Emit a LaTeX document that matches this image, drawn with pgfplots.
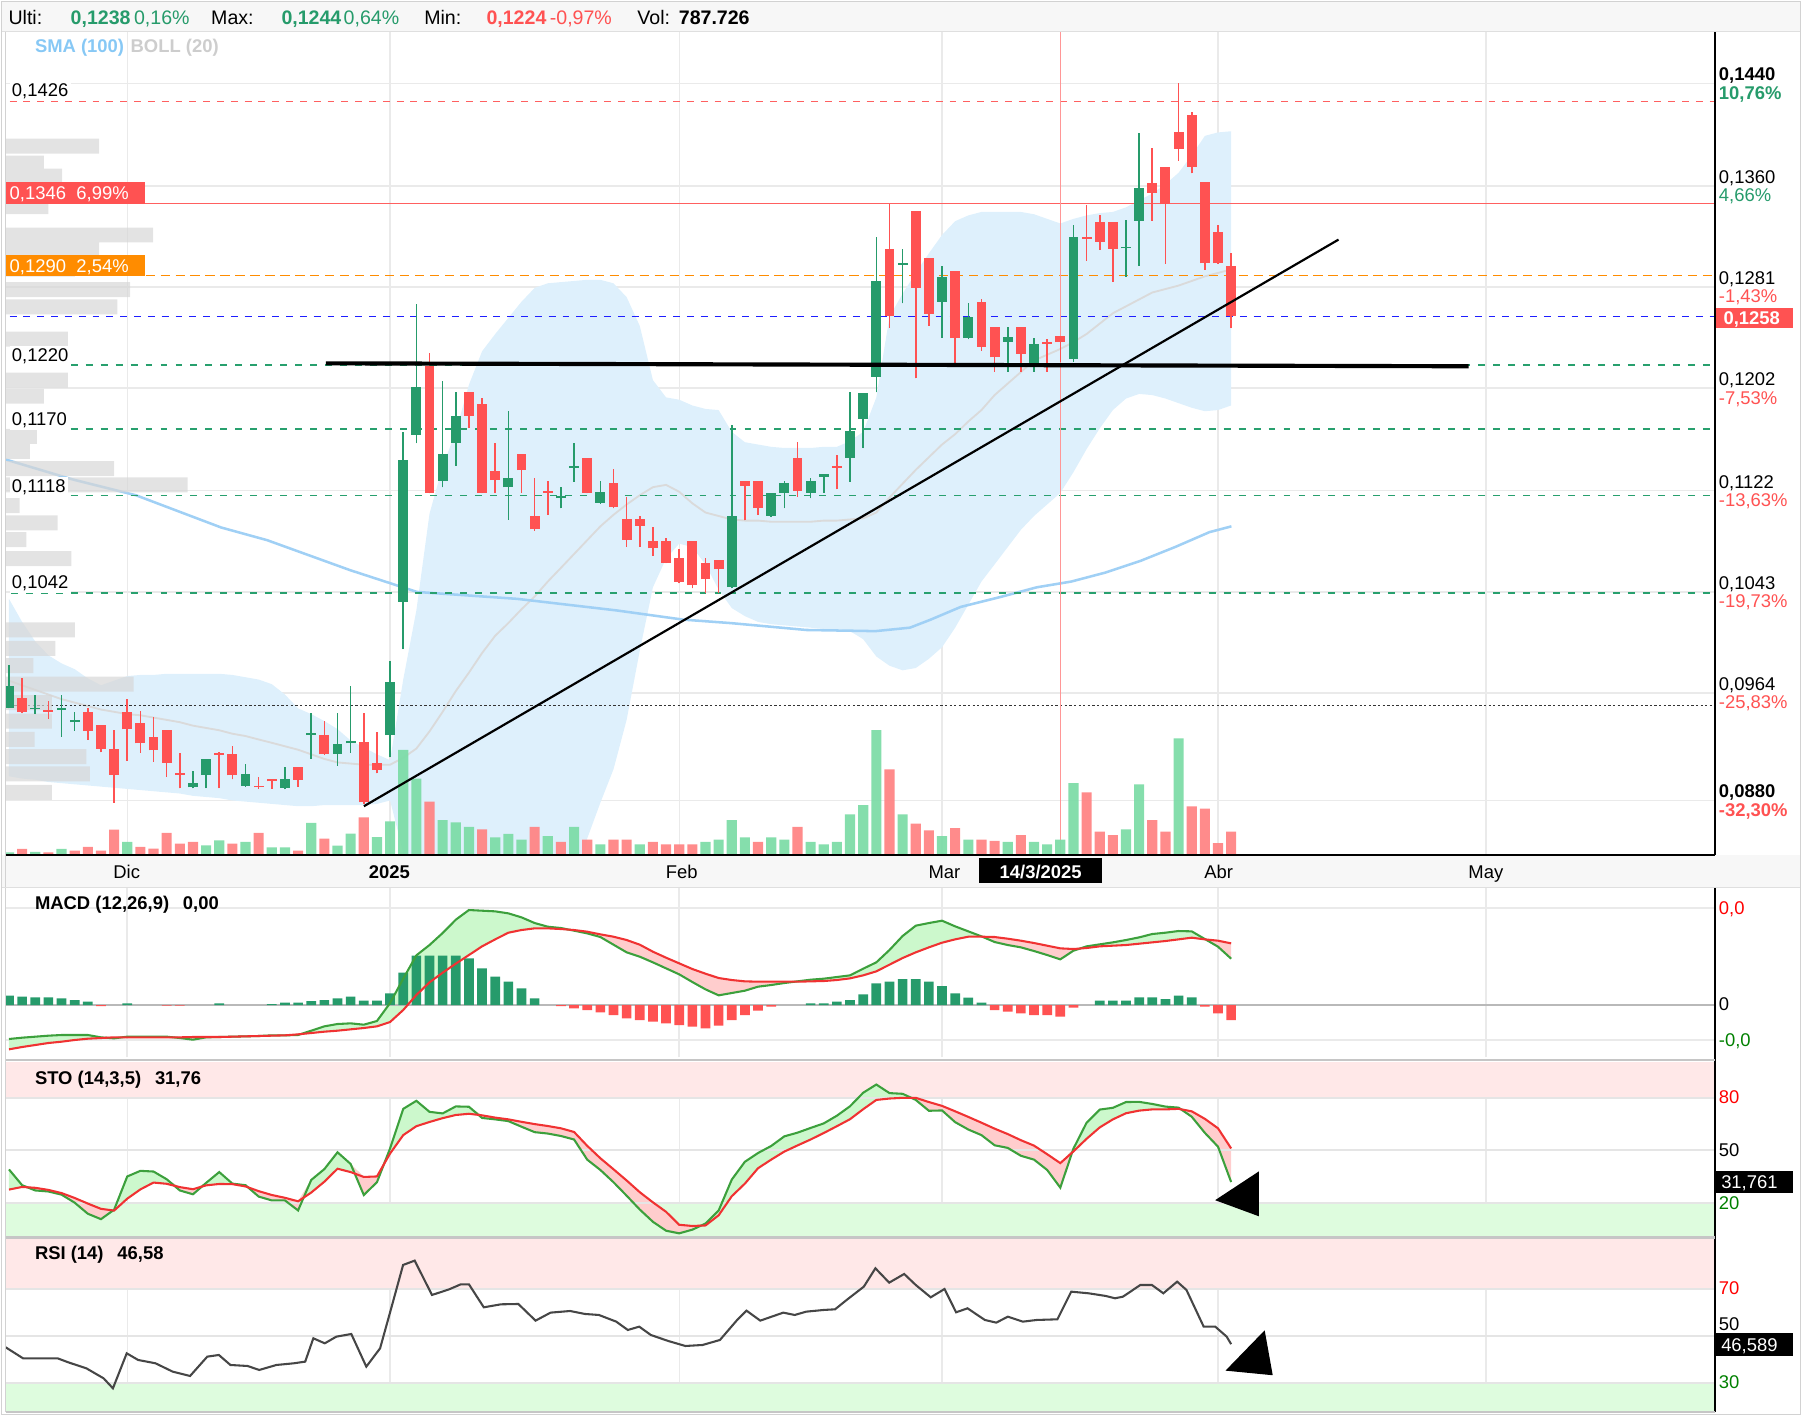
\documentclass[border=0pt]{standalone}
\usepackage{pgfplots}
\pgfplotsset{compat=1.18}
\usepackage{pgfplotstable}
\usepgfplotslibrary{fillbetween}
\usepackage{fontspec}
\setmainfont{Liberation Sans}

\definecolor{cg}{RGB}{38,155,107}
\definecolor{cr}{RGB}{255,82,82}
\definecolor{vg}{RGB}{126,220,168}
\definecolor{vr}{RGB}{255,133,133}
\definecolor{bandc}{RGB}{222,240,252}
\definecolor{smac}{RGB}{160,208,245}
\definecolor{midc}{RGB}{218,218,218}
\definecolor{dg}{RGB}{40,160,110}
\definecolor{lred}{RGB}{255,96,96}
\definecolor{orng}{RGB}{255,140,0}
\definecolor{dblue}{RGB}{30,30,255}
\definecolor{gridc}{RGB}{234,234,234}
\definecolor{macdg}{RGB}{60,160,60}
\definecolor{macdr}{RGB}{240,50,50}
\definecolor{fillg}{RGB}{204,248,204}
\definecolor{fillr}{RGB}{255,205,205}
\definecolor{pinkc}{RGB}{255,232,232}
\definecolor{lgreen}{RGB}{222,252,222}
\definecolor{hdr}{RGB}{247,247,247}
\definecolor{smalab}{RGB}{135,200,245}
\definecolor{bolllab}{RGB}{205,205,205}
\definecolor{profc}{RGB}{215,215,215}
\definecolor{vline}{RGB}{255,150,150}
\definecolor{tg}{RGB}{38,155,107}
\definecolor{tr}{RGB}{255,82,82}
\definecolor{rsic}{RGB}{70,70,70}

\newcommand\fn{\fontsize{8}{9}\selectfont}
\newcommand\fh{\fontsize{8.5}{10}\selectfont}

% ---------------- candles ----------------
\pgfplotstableread{
x o h l c
0 0.09526 0.09859 0.09520 0.09695
2 0.09515 0.09625 0.09476 0.09526
4 0.09508 0.09625 0.09299 0.09524
5 0.09410 0.09494 0.09346 0.09426
14 0.08904 0.09031 0.08896 0.08940
15 0.09000 0.09122 0.08896 0.09122
18 0.08916 0.09086 0.08909 0.09010
21 0.08901 0.09060 0.08890 0.08969
23 0.09312 0.09487 0.09125 0.09328
25 0.09166 0.09487 0.09070 0.09242
26 0.09247 0.09695 0.09174 0.09263
29 0.09312 0.09893 0.09138 0.09723
30 0.10353 0.11681 0.09980 0.11459
31 0.11655 0.12678 0.11590 0.12032
33 0.11298 0.12076 0.11246 0.11504
34 0.11590 0.11993 0.11413 0.11803
38 0.11246 0.11842 0.10991 0.11321
42 0.11161 0.11251 0.11082 0.11177
43 0.11396 0.11595 0.11290 0.11411
45 0.11126 0.11295 0.11116 0.11212
55 0.10466 0.11734 0.10458 0.11023
58 0.11023 0.11200 0.11013 0.11200
59 0.11205 0.11299 0.11083 0.11283
61 0.11205 0.11317 0.11161 0.11296
62 0.11330 0.11348 0.11205 0.11348
64 0.11478 0.11994 0.11291 0.11689
65 0.11778 0.11986 0.11551 0.11981
66 0.12110 0.13198 0.11988 0.12857
68 0.12982 0.13105 0.12683 0.12995
71 0.12696 0.12974 0.12415 0.12886
73 0.12410 0.12688 0.12402 0.12579
76 0.12384 0.12501 0.12149 0.12417
78 0.12214 0.12415 0.12149 0.12363
81 0.12246 0.13295 0.12227 0.13198
85 0.13112 0.13334 0.12891 0.13125
86 0.13326 0.14016 0.12974 0.13581
}\gtab

\pgfplotstableread{
x o h l c
1 0.09598 0.09760 0.09481 0.09492
3 0.09508 0.09580 0.09437 0.09492
6 0.09489 0.09520 0.09273 0.09343
7 0.09390 0.09390 0.09179 0.09203
8 0.09203 0.09351 0.08784 0.09000
9 0.09489 0.09596 0.09112 0.09356
10 0.09408 0.09500 0.09174 0.09247
11 0.09297 0.09455 0.09104 0.09192
12 0.09351 0.09351 0.08987 0.09096
13 0.09016 0.09169 0.08896 0.09002
16 0.09172 0.09182 0.08896 0.09158
17 0.09161 0.09226 0.08966 0.08997
19 0.08917 0.08982 0.08893 0.08903
20 0.08969 0.08969 0.08893 0.08950
22 0.09065 0.09065 0.08909 0.08961
24 0.09310 0.09419 0.09156 0.09161
27 0.09255 0.09487 0.08773 0.08786
28 0.09091 0.09336 0.09013 0.09039
32 0.12193 0.12298 0.11199 0.11204
35 0.11993 0.11993 0.11712 0.11806
36 0.11897 0.11941 0.11199 0.11204
37 0.11376 0.11595 0.11199 0.11303
39 0.11504 0.11504 0.11204 0.11381
40 0.11022 0.11321 0.10907 0.10918
41 0.11218 0.11295 0.11030 0.11204
44 0.11472 0.11472 0.11199 0.11204
46 0.11282 0.11389 0.11082 0.11095
47 0.10996 0.11173 0.10783 0.10835
48 0.10996 0.11022 0.10783 0.10947
49 0.10827 0.10939 0.10710 0.10770
50 0.10827 0.10853 0.10653 0.10658
51 0.10697 0.10762 0.10496 0.10509
52 0.10827 0.10827 0.10457 0.10483
53 0.10652 0.10692 0.10418 0.10527
54 0.10678 0.10678 0.10418 0.10606
56 0.11299 0.11299 0.10987 0.11257
57 0.11299 0.11299 0.11031 0.11083
60 0.11473 0.11596 0.11174 0.11221
63 0.11416 0.11499 0.11231 0.11400
67 0.13105 0.13456 0.12493 0.12584
69 0.13404 0.13404 0.12097 0.12805
70 0.13034 0.13034 0.12506 0.12600
72 0.12938 0.12938 0.12220 0.12410
74 0.12691 0.12717 0.12313 0.12345
75 0.12501 0.12501 0.12149 0.12261
77 0.12501 0.12501 0.12149 0.12287
79 0.12382 0.12404 0.12149 0.12367
80 0.12430 0.12430 0.12227 0.12378
82 0.13201 0.13451 0.13013 0.13185
83 0.13321 0.13373 0.13099 0.13164
84 0.13321 0.13321 0.12852 0.13107
87 0.13620 0.13893 0.13328 0.13547
88 0.13745 0.13745 0.12990 0.13456
89 0.14018 0.14401 0.13797 0.13888
90 0.14154 0.14180 0.13698 0.13750
91 0.13633 0.13633 0.12943 0.12995
92 0.13237 0.13295 0.12990 0.12995
93 0.12977 0.13078 0.12488 0.12584
}\rtab

% ---------------- bollinger (20) ----------------
\pgfplotstableread{
x up lo mid
0 0.10375 0.08990 0.09736
1 0.10195 0.08972 0.09700
2 0.10042 0.08963 0.09664
3 0.09934 0.08945 0.09628
4 0.09871 0.08936 0.09592
5 0.09826 0.08927 0.09565
6 0.09754 0.08918 0.09538
7 0.09700 0.08909 0.09511
8 0.09736 0.08900 0.09493
9 0.09772 0.08891 0.09475
10 0.09781 0.08882 0.09466
11 0.09781 0.08873 0.09448
12 0.09790 0.08864 0.09430
13 0.09790 0.08855 0.09412
14 0.09790 0.08837 0.09385
15 0.09790 0.08828 0.09367
16 0.09790 0.08819 0.09349
17 0.09781 0.08801 0.09322
18 0.09763 0.08792 0.09304
19 0.09745 0.08783 0.09277
20 0.09709 0.08774 0.09251
21 0.09628 0.08765 0.09224
22 0.09520 0.08756 0.09197
23 0.09475 0.08756 0.09161
24 0.09421 0.08765 0.09125
25 0.09358 0.08765 0.09098
26 0.09269 0.08765 0.09089
27 0.09215 0.08765 0.09080
28 0.09161 0.08774 0.09080
29 0.09116 0.08801 0.09080
30 0.09745 0.08396 0.09134
31 0.10285 0.07947 0.09206
32 0.11040 0.07587 0.09340
33 0.11409 0.07407 0.09493
34 0.11679 0.07317 0.09655
35 0.12047 0.07227 0.09799
36 0.12308 0.07137 0.09952
37 0.12443 0.07092 0.10087
38 0.12569 0.07137 0.10186
39 0.12695 0.07227 0.10294
40 0.12803 0.07407 0.10393
41 0.12839 0.07587 0.10510
42 0.12848 0.07767 0.10617
43 0.12857 0.07947 0.10725
44 0.12866 0.08504 0.10833
45 0.12866 0.08783 0.10941
46 0.12839 0.09044 0.11031
47 0.12731 0.09430 0.11112
48 0.12506 0.09970 0.11184
49 0.12083 0.10465 0.11247
50 0.11948 0.10689 0.11265
51 0.11930 0.10806 0.11211
52 0.11885 0.10779 0.11121
53 0.11858 0.10644 0.11049
54 0.11849 0.10447 0.11022
55 0.11679 0.10303 0.10995
56 0.11598 0.10240 0.10986
57 0.11580 0.10195 0.10986
58 0.11562 0.10177 0.10977
59 0.11553 0.10168 0.10977
60 0.11553 0.10159 0.10977
61 0.11553 0.10150 0.10977
62 0.11562 0.10141 0.10986
63 0.11562 0.10141 0.10986
64 0.11607 0.10123 0.10995
65 0.11679 0.10060 0.11004
66 0.11948 0.09925 0.11049
67 0.12578 0.09853 0.11166
68 0.12758 0.09817 0.11274
69 0.12920 0.09835 0.11382
70 0.13073 0.09907 0.11481
71 0.13216 0.09997 0.11580
72 0.13324 0.10150 0.11661
73 0.13369 0.10330 0.11760
74 0.13396 0.10510 0.11849
75 0.13396 0.10644 0.11966
76 0.13396 0.10779 0.12056
77 0.13396 0.10914 0.12146
78 0.13378 0.11022 0.12236
79 0.13342 0.11112 0.12281
80 0.13306 0.11202 0.12326
81 0.13342 0.11364 0.12380
82 0.13369 0.11544 0.12443
83 0.13387 0.11706 0.12524
84 0.13396 0.11849 0.12605
85 0.13432 0.11939 0.12659
86 0.13486 0.11975 0.12713
87 0.13540 0.11966 0.12767
88 0.13612 0.11939 0.12794
89 0.13702 0.11903 0.12821
90 0.13837 0.11867 0.12857
91 0.13990 0.11840 0.12893
92 0.14017 0.11849 0.12920
93 0.14026 0.11885 0.12947
}\bands

% ---------------- SMA (100) ----------------
\pgfplotstableread{
x y
-0.25 0.11463
4.75 0.11310
9.66 0.11184
16.15 0.10932
19.65 0.10833
25.96 0.10599
31.05 0.10429
38.67 0.10375
46.21 0.10285
51.29 0.10213
54.89 0.10186
60.67 0.10132
65.93 0.10123
68.56 0.10150
70.14 0.10213
72.42 0.10312
75.57 0.10393
78.2 0.10465
80.83 0.10510
83.46 0.10581
86.09 0.10671
88.72 0.10779
91.35 0.10896
93.02 0.10941
}\smatab

% ---------------- volume profile ----------------
\pgfplotstableread{
len p
81 0.13909
33 0.13778
49 0.13675
40 0.13540
37 0.13437
128 0.13216
81 0.13118
60 0.12950
108 0.12789
97 0.12654
54 0.12403
54 0.12083
33 0.11957
27 0.11643
21 0.11526
94 0.11391
158 0.11265
12 0.11103
45 0.10968
18 0.10838
57 0.10689
60 0.10132
43 0.09988
24 0.09853
111 0.09709
40 0.09565
40 0.09421
25 0.09278
70 0.09143
73 0.09008
40 0.08864
}\proftab

% ---------------- volume ----------------
\pgfplotstableread{
x h
0 2
2 2.3
4 4.9
9 11
15 8.1
16 12.4
18 11
20 6.4
21 6.4
23 27.5
25 7.8
26 18.2
28 15.3
29 28.9
30 91
31 66
33 30
34 28
35 24
37 15
38 18
39 13
41 16
43 24
45 9
48 9
53 11
54 13
55 30
56 15
58 15
59 13
61 11
62 9
63 11
64 35
65 43
66 108
68 35
71 16
73 13
76 11
78 11
79 9
80 13
81 62
85 22
86 61
89 101
}\vgtab
\pgfplotstableread{
x h
1 4.9
3 2
5 3.5
6 6.7
7 3.5
8 21.7
10 6.7
11 5.2
12 18.8
13 9.6
14 11
17 9.6
19 18.8
22 3.5
24 13.9
27 32.4
32 46
36 22
40 24
42 11
44 13
46 13
47 13
49 11
50 9
51 9
52 9
57 11
60 24
67 74
69 27
70 21
72 23
74 13
75 12
77 17
82 54
83 20
84 17
87 30
88 20
90 42
91 40
92 10
93 20
}\vrtab

% ---------------- MACD (m), signal (s), upper envelope (mx) ----------------
\pgfplotstableread{
x m s mx
0 -102 -133 -102
1 -98 -126 -98
2 -95 -120 -95
3 -92 -114 -92
4 -90 -110 -90
5 -90 -105 -90
6 -90 -101 -90
7 -97 -99 -97
8 -100 -97 -97
9 -95 -97 -95
10 -95 -97 -95
11 -95 -97 -95
12 -95 -97 -95
13 -99 -97 -97
14 -104 -96 -96
15 -97 -96 -96
16 -96 -96 -96
17 -95 -95 -95
18 -94 -94 -94
19 -93 -93 -93
20 -91 -92 -91
21 -91 -91 -91
22 -90 -88 -88
23 -77 -84 -77
24 -64 -80 -64
25 -57 -77 -57
26 -55 -73 -55
27 -59 -69 -59
28 -48 -64 -48
29 6 -51 6
30 79 -15 79
31 149 30 149
32 180 68 180
33 216 97 216
34 256 124 256
35 285 150 285
36 283 176 283
37 281 197 281
38 275 217 275
39 263 225 263
40 246 230 246
41 235 230 235
42 231 228 231
43 223 225 225
44 215 220 220
45 204 212 212
46 181 205 205
47 158 195 195
48 145 181 181
49 128 160 160
50 110 142 142
51 92 125 125
52 69 108 108
53 47 94 94
54 29 81 81
55 36 75 75
56 43 71 71
57 55 70 70
58 60 70 70
59 66 70 70
60 71 70 71
61 76 71 76
62 79 72 79
63 84 75 84
64 89 80 89
65 109 89 109
66 128 101 128
67 165 121 165
68 207 141 207
69 238 158 238
70 246 173 246
71 253 187 253
72 236 197 236
73 221 205 221
74 206 205 206
75 189 204 204
76 180 199 199
77 173 193 193
78 162 186 186
79 150 178 178
80 137 170 170
81 163 168 168
82 176 171 176
83 182 176 182
84 188 178 188
85 195 180 195
86 203 184 203
87 213 188 213
88 217 192 217
89 222 197 222
90 221 202 221
91 198 197 198
92 175 193 193
93 139 185 185
}\macdtab
\pgfplotstableread{
x h
0 28
1 25
2 23
3 23
4 20
5 15
6 10
9 5
16 5
20 3
21 7
22 7
23 12
24 15
25 20
26 25
27 13
28 13
29 35
30 97
31 148
32 148
33 148
34 148
35 140
36 110
37 85
38 70
39 50
40 20
61 5
62 5
63 10
64 15
65 32
66 65
67 70
68 78
69 78
70 70
71 57
72 35
73 22
74 7
83 13
84 13
85 13
86 23
87 23
88 18
89 28
90 23
}\hgtab
\pgfplotstableread{
x h
7 -3
12 -2
13 -2
42 -3
43 -10
44 -15
45 -22
46 -30
47 -40
48 -45
49 -50
50 -55
51 -60
52 -65
53 -70
54 -62
55 -45
56 -30
57 -17
58 -5
75 -15
76 -20
77 -25
78 -30
79 -30
80 -35
81 -8
91 -5
92 -25
93 -45
}\hrtab

% ---------------- STO %K (k), %D (d), upper envelope (mx) ----------------
\pgfplotstableread{
x k d mx
0 39 27.5 39
1 30 29 30
2 27 28.5 28.5
3 26.4 27.3 27.3
4 24.6 25.5 25.5
5 20 22.7 22.7
6 13.7 19.5 19.5
7 10.6 16.5 16.5
8 16 15.5 16
9 35 22.3 35
10 38.2 27.6 38.2
11 37.8 31.5 37.8
12 33.4 30.8 33.4
13 27 28.9 28.9
14 24.8 27.7 27.7
15 31.3 29.9 31.3
16 37.5 30.7 37.5
17 30.9 30.6 30.9
18 30 29.3 30
19 23.5 26.6 26.6
20 21.3 24.4 24.4
21 21.3 22.8 22.8
22 15.6 20.8 20.8
23 33 25.8 33
24 39.2 32 39.2
25 48.8 39.4 48.8
26 42.1 37.5 42.1
27 24.4 34.7 34.7
28 31.7 35 35
29 51 48.1 51
30 73.6 58.6 73.6
31 78.2 63.7 78.2
32 71.9 66.1 71.9
33 71 68.3 71
34 75 70.1 75
35 74.8 70.8 74.8
36 68.4 69.9 69.9
37 67.6 68.6 68.6
38 66.6 67.6 67.6
39 63.4 66.2 66.2
40 60.3 64.9 64.9
41 59.5 63.8 63.8
42 58.1 62.5 62.5
43 56.1 60.4 60.4
44 44.6 52.5 52.5
45 38.7 45.4 45.4
46 31.7 39.1 39.1
47 24 32.7 32.7
48 16.1 26 26
49 9.1 20.2 20.2
50 4 14.8 14.8
51 2.5 7.4 7.4
52 4.6 6.7 6.7
53 8.1 7 8.1
54 15.5 12.8 15.5
55 33.2 23.7 33.2
56 43.4 30.9 43.4
57 48.4 39.7 48.4
58 52.4 44.6 52.4
59 57.9 49.2 57.9
60 60 52.7 60
61 62.7 56.1 62.7
62 65.3 59.8 65.3
63 69.7 63.7 69.7
64 75.1 67.7 75.1
65 82.8 73.4 82.8
66 87.5 78.7 87.5
67 82.6 79.5 82.6
68 82.2 79.9 82.2
69 78.7 79.9 79.9
70 72.5 77.5 77.5
71 72.7 75.3 75.3
72 66 72.2 72.2
73 61.8 69 69
74 58.6 65.7 65.7
75 52.8 62.3 62.3
76 51.3 59.2 59.2
77 46.8 55.7 55.7
78 44.6 52.6 52.6
79 38.7 47.7 47.7
80 28.6 42.6 42.6
81 50.9 49.3 50.9
82 65.7 56.5 65.7
83 73.2 63 73.2
84 74.2 67.6 74.2
85 77.5 71.1 77.5
86 77.6 72.6 77.6
87 76.4 73.3 76.4
88 74.9 73.3 74.9
89 74.3 73.6 74.3
90 69.1 72.2 72.2
91 59.9 67.9 67.9
92 52 62.5 62.5
93 31.8 51 51
}\stotab

% ---------------- RSI ----------------
\pgfplotstableread{
x y
-0.25 45.27
1.07 40.60
3.70 40.60
4.58 38.77
5.89 36.36
7.20 32.12
7.91 27.88
8.96 42.72
9.83 39.90
11.15 38.49
12.46 34.95
13.78 33.11
15.09 41.31
15.97 42.02
16.85 37.78
18.16 37.35
19.04 35.66
20.35 37.78
21.67 38.49
22.54 39.19
23.16 49.09
24.03 46.96
24.91 49.79
26.05 50.92
27.19 37.07
28.24 44.84
29.12 62.51
29.99 80.18
30.87 82.02
32.19 67.46
33.50 69.86
34.38 71.98
35.00 71.98
36.13 62.23
37.44 63.50
38.76 63.64
40.07 56.58
41.21 59.97
42.70 60.67
43.84 59.40
44.89 58.98
46.21 56.15
47.09 52.62
47.96 54.03
48.84 50.50
50.16 47.96
51.47 45.83
52.78 46.26
54.10 48.38
55.41 56.86
56.12 60.82
57.17 56.58
58.04 58.27
58.92 59.97
59.79 58.98
60.67 60.39
61.99 61.10
62.86 61.38
63.74 65.34
65.05 70.99
65.93 78.77
66.98 72.69
68.12 76.36
69.00 71.70
70.14 66.47
71.19 70.00
72.07 60.11
72.94 61.80
74.26 56.86
75.13 55.73
76.01 58.27
77.15 56.15
78.20 56.86
79.78 57.14
80.83 68.87
82.15 68.17
83.46 67.04
84.16 66.05
84.77 66.75
86.09 71.70
86.97 71.70
87.84 68.17
88.89 73.11
89.60 69.58
90.91 54.03
91.79 54.03
92.66 49.79
93.00 46.60
}\rsitab

\pgfplotsset{
  base/.style={scale only axis, width=742pt, anchor=south west,
    xmin=-0.245, xmax=129.82,
    axis line style={draw=none}, tick style={draw=none},
    xtick={9,29,51,71,92,112.4}, xticklabels={}, yticklabels={},
    grid style={draw=gridc, line width=0.6pt}},
  candle/.style={only marks, mark size=0pt, mark options={draw=none, fill=none},
    error bars/.cd, y dir=plus, y explicit, error mark=none},
}
\tikzset{lab/.style={anchor=base west, inner sep=0pt, font=\fn}}

\begin{document}
\begin{tikzpicture}[x=0.5pt,y=-0.5pt]
\fill[hdr] (1,1) rectangle (1563,27);
\fill[hdr] (1,742) rectangle (1563,770);

% ===== main panel: grid, bands, reference lines =====
\begin{axis}[base, at={(2.5pt,-371pt)}, height=357.5pt, ymin=0.08378, ymax=0.14808,
  ytick={0.0880,0.0964,0.1043,0.1122,0.1202,0.1281,0.1360,0.1440},
  xmajorgrids, ymajorgrids]
\addplot[draw=none, name path=up] table[x=x,y=up]{\bands};
\addplot[draw=none, name path=lo] table[x=x,y=lo]{\bands};
\addplot[fill=bandc, draw=none] fill between[of=up and lo];
\addplot[midc, line width=0.8pt] table[x=x,y=mid]{\bands};
\addplot[smac, line width=1.1pt] table[x=x,y=y]{\smatab};
\addplot[lred, line width=0.6pt, dash pattern=on 3pt off 3pt] coordinates {(-1,0.1426) (131,0.1426)};
\addplot[lred, line width=0.6pt] coordinates {(-1,0.1346) (131,0.1346)};
\addplot[orng, line width=0.7pt, dash pattern=on 4pt off 2.5pt] coordinates {(-1,0.1290) (131,0.1290)};
\addplot[dblue, line width=0.7pt, dash pattern=on 3pt off 3pt] coordinates {(-1,0.1258) (131,0.1258)};
\addplot[dg, line width=0.6pt, dash pattern=on 3pt off 3.5pt] coordinates {(-1,0.1220) (131,0.1220)};
\addplot[dg, line width=0.6pt, dash pattern=on 3pt off 3.5pt] coordinates {(-1,0.1170) (131,0.1170)};
\addplot[dg, line width=0.6pt, dash pattern=on 3pt off 3.5pt] coordinates {(-1,0.1118) (131,0.1118)};
\addplot[dg, line width=0.6pt, dash pattern=on 3pt off 3.5pt] coordinates {(-1,0.1042) (131,0.1042)};
\addplot[black!80, line width=0.6pt, dash pattern=on 1pt off 1pt] coordinates {(-1,0.0954) (131,0.0954)};
\addplot[vline, line width=0.6pt] coordinates {(80,0.08) (80,0.15)};
\end{axis}

% ===== volume profile =====
\begin{axis}[base, at={(2.5pt,-371pt)}, height=357.5pt, xmin=0, xmax=1484, ymin=0.08378, ymax=0.14808]
\addplot[xbar, bar width=6.5pt, bar shift=0pt, draw=none, fill=profc, fill opacity=0.7] table[x=len,y=p]{\proftab};
\end{axis}

% ===== volume =====
\begin{axis}[base, at={(2.5pt,-371pt)}, height=357.5pt, ymin=0, ymax=715]
\addplot[ybar, bar width=4.4pt, bar shift=0pt, draw=none, fill=vg, fill opacity=0.95] table[x=x,y=h]{\vgtab};
\addplot[ybar, bar width=4.4pt, bar shift=0pt, draw=none, fill=vr, fill opacity=0.95] table[x=x,y=h]{\vrtab};
\end{axis}

% ===== candles and trend lines =====
\begin{axis}[base, at={(2.5pt,-371pt)}, height=357.5pt, ymin=0.08378, ymax=0.14808]
\addplot[candle, error bar style={draw=cg, line width=0.7pt}]
  table[x=x, y=l, y error plus expr=\thisrow{h}-\thisrow{l}]{\gtab};
\addplot[candle, error bar style={draw=cr, line width=0.7pt}]
  table[x=x, y=l, y error plus expr=\thisrow{h}-\thisrow{l}]{\rtab};
\addplot[candle, error bar style={draw=cg, line width=4.3pt}]
  table[x=x, y=o, y error plus expr=\thisrow{c}-\thisrow{o}]{\gtab};
\addplot[candle, error bar style={draw=cr, line width=4.3pt}]
  table[x=x, y=c, y error plus expr=\thisrow{o}-\thisrow{c}]{\rtab};
\addplot[black, line width=1.8pt] coordinates {(24.12,0.12214) (111.07,0.12191)};
\addplot[black, line width=0.95pt] coordinates {(27.01,0.08756) (101.17,0.13180)};
\end{axis}

% ===== MACD =====
\begin{axis}[base, at={(2.5pt,-459pt)}, height=73.5pt, ymin=-157, ymax=351,
  ytick={-105,290}, xmajorgrids, ymajorgrids, grid style={draw=gridc, line width=0.9pt}]
\addplot[gray!55, line width=0.9pt] coordinates {(-1,0) (131,0)};
\addplot[draw=none, name path=mm] table[x=x,y=m]{\macdtab};
\addplot[draw=none, name path=ms] table[x=x,y=s]{\macdtab};
\addplot[draw=none, name path=mx] table[x=x,y=mx]{\macdtab};
\addplot[fill=fillg, draw=none] fill between[of=ms and mx];
\addplot[fill=fillr, draw=none] fill between[of=mm and mx];
\addplot[ybar, bar width=4.2pt, bar shift=0pt, draw=none, fill=cg] table[x=x,y=h]{\hgtab};
\addplot[ybar, bar width=4.2pt, bar shift=0pt, draw=none, fill=cr] table[x=x,y=h]{\hrtab};
\addplot[macdg, line width=0.9pt] table[x=x,y=m]{\macdtab};
\addplot[macdr, line width=0.9pt] table[x=x,y=s]{\macdtab};
\end{axis}

% ===== STO =====
\begin{axis}[base, at={(2.5pt,-537.3pt)}, height=76pt, ymin=0, ymax=100, xmajorgrids]
\addplot[draw=none, name path=z100] coordinates {(-1,101) (131,101)};
\addplot[draw=none, name path=z80] coordinates {(-1,80) (131,80)};
\addplot[draw=none, name path=z20] coordinates {(-1,20) (131,20)};
\addplot[draw=none, name path=z0] coordinates {(-1,-1) (131,-1)};
\addplot[fill=pinkc, draw=none] fill between[of=z80 and z100];
\addplot[fill=lgreen, draw=none] fill between[of=z0 and z20];
\addplot[draw=none, name path=sk] table[x=x,y=k]{\stotab};
\addplot[draw=none, name path=sd] table[x=x,y=d]{\stotab};
\addplot[draw=none, name path=sx] table[x=x,y=mx]{\stotab};
\addplot[fill=fillg, draw=none] fill between[of=sd and sx];
\addplot[fill=fillr, draw=none] fill between[of=sk and sx];
\addplot[gray!20, line width=1pt] coordinates {(-1,80) (131,80)};
\addplot[gray!20, line width=1pt] coordinates {(-1,50) (131,50)};
\addplot[gray!20, line width=1pt] coordinates {(-1,20) (131,20)};
\addplot[macdg, line width=0.9pt] table[x=x,y=k]{\stotab};
\addplot[macdr, line width=0.9pt] table[x=x,y=d]{\stotab};
\end{axis}

% ===== RSI =====
\begin{axis}[base, at={(2.5pt,-613pt)}, height=75pt, ymin=17.8, ymax=91.05, xmajorgrids]
\fill[pinkc] (axis cs:-1,70) rectangle (axis cs:131,92);
\fill[lgreen] (axis cs:-1,17) rectangle (axis cs:131,30);
\addplot[gray!20, line width=1pt] coordinates {(-1,70) (131,70)};
\addplot[gray!20, line width=1pt] coordinates {(-1,50) (131,50)};
\addplot[gray!20, line width=1pt] coordinates {(-1,30) (131,30)};
\addplot[rsic, line width=0.9pt] table[x=x,y=y]{\rsitab};
\end{axis}

% ===== frames =====
\draw[gray!35, line width=0.5pt] (5,27) -- (5,1226);
\draw[black, line width=0.8pt] (5,742) -- (1489,742);
\draw[black, line width=0.7pt] (1489,27) -- (1489,742);
\draw[black, line width=0.7pt] (1489,771) -- (1489,1226);
\draw[gray!45, line width=1pt] (5,920.5) -- (1489,920.5);
\draw[gray!45, line width=1pt] (5,1074.5) -- (1489,1074.5);
\draw[gray!45, line width=1pt] (5,1226) -- (1489,1226);
\draw[gray!25, line width=0.5pt] (1,770.5) -- (1563,770.5);
\draw[gray!25, line width=0.5pt] (1,27) -- (1563,27);
\draw[gray!35, line width=0.5pt] (1,1) rectangle (1563.5,1228);

% ===== header =====
\node[lab,font=\fh] at (7,21) {Ulti:};
\node[lab,font=\fh\bfseries,text=tg] at (61,21) {0,1238};
\node[lab,font=\fh,text=tg] at (116,21) {0,16\%};
\node[lab,font=\fh] at (183,21) {Max:};
\node[lab,font=\fh\bfseries,text=tg] at (244,21) {0,1244};
\node[lab,font=\fh,text=tg] at (298,21) {0,64\%};
\node[lab,font=\fh] at (368,21) {Min:};
\node[lab,font=\fh\bfseries,text=tr] at (422,21) {0,1224};
\node[lab,font=\fh,text=tr] at (477,21) {-0,97\%};
\node[lab,font=\fh] at (553,21) {Vol:};
\node[lab,font=\fh\bfseries] at (589,21) {787.726};
\node[lab,font=\fn\bfseries,text=smalab] at (30,45.7) {SMA (100)};
\node[lab,font=\fn\bfseries,text=bolllab] at (113,45.7) {BOLL (20)};

% ===== left labels =====
\node[lab,fill=white,inner sep=1pt] at (8,83.7) {0,1426};
\node[lab,fill=white,inner sep=1pt] at (8,313.7) {0,1220};
\node[lab,fill=white,inner sep=1pt] at (8,369.7) {0,1170};
\node[lab,fill=white,inner sep=1pt] at (8,427.7) {0,1118};
\node[lab,fill=white,inner sep=1pt] at (8,510.7) {0,1042};
\fill[cr] (5,158) rectangle (126,177);
\node[lab,text=white] at (8,173.2) {0,1346};
\node[lab,text=white] at (66,173.2) {6,99\%};
\fill[orng] (5,221) rectangle (126,240);
\node[lab,text=white] at (8,236.2) {0,1290};
\node[lab,text=white] at (66,236.2) {2,54\%};

% ===== right labels (main) =====
\node[lab,font=\fn\bfseries] at (1492,70.1) {0,1440};
\node[lab,font=\fn\bfseries,text=tg] at (1492,86.1) {10,76\%};
\node[lab] at (1492,159.1) {0,1360};
\node[lab,text=tg] at (1492,175.1) {4,66\%};
\node[lab] at (1492,246.9) {0,1281};
\node[lab,text=tr] at (1492,262.9) {-1,43\%};
\fill[cr] (1490,267) rectangle (1557,285);
\node[lab,font=\fn\bfseries,text=white] at (1496,281.7) {0,1258};
\node[lab] at (1492,334.8) {0,1202};
\node[lab,text=tr] at (1492,350.8) {-7,53\%};
\node[lab] at (1492,423.7) {0,1122};
\node[lab,text=tr] at (1492,439.7) {-13,63\%};
\node[lab] at (1492,511.6) {0,1043};
\node[lab,text=tr] at (1492,527.6) {-19,73\%};
\node[lab] at (1492,599.4) {0,0964};
\node[lab,text=tr] at (1492,615.4) {-25,83\%};
\node[lab,font=\fn\bfseries] at (1492,692.8) {0,0880};
\node[lab,font=\fn\bfseries,text=tr] at (1492,708.8) {-32,30\%};

% ===== date axis =====
\node[anchor=base, inner sep=0pt, font=\fn] at (110,762.7) {Dic};
\node[anchor=base, inner sep=0pt, font=\fn\bfseries] at (338,762.7) {2025};
\node[anchor=base, inner sep=0pt, font=\fn] at (592,762.7) {Feb};
\node[anchor=base, inner sep=0pt, font=\fn] at (820,762.7) {Mar};
\fill[black] (850,745) rectangle (957,767);
\node[anchor=base, inner sep=0pt, font=\fn\bfseries, text=white] at (903.5,762.7) {14/3/2025};
\node[anchor=base, inner sep=0pt, font=\fn] at (1058,762.7) {Abr};
\node[anchor=base, inner sep=0pt, font=\fn] at (1290,762.7) {May};

% ===== sub panel titles and labels =====
\node[lab,font=\fn\bfseries] at (30,789.7) {MACD (12,26,9)\hspace{6pt}0,00};
\node[lab,text=red] at (1492,793.7) {0,0};
\node[lab] at (1492,877.7) {0};
\node[lab,text=green!50!black] at (1492,908.7) {-0,0};

\node[lab,font=\fn\bfseries] at (30,941.7) {STO (14,3,5)\hspace{6pt}31,76};
\node[lab,text=red] at (1492,957.7) {80};
\node[lab] at (1492,1003.7) {50};
\node[lab,text=green!50!black] at (1492,1049.7) {20};
\fill[black] (1490,1017) rectangle (1557,1036);
\node[lab,text=white] at (1494,1032.2) {31,761};
\fill[black] (1093,1017) -- (1055,1042) -- (1093,1056) -- cycle;

\node[lab,font=\fn\bfseries] at (30,1093.7) {RSI (14)\hspace{6pt}46,58};
\node[lab,text=red] at (1492,1123.7) {70};
\node[lab] at (1492,1155.5) {50};
\node[lab,text=green!50!black] at (1492,1205.7) {30};
\fill[black] (1490,1157.5) rectangle (1557,1177.5);
\node[lab,text=white] at (1494,1173) {46,589};
\fill[black] (1098,1155) -- (1064,1190) -- (1105,1194) -- cycle;

\pgfresetboundingbox
\path[use as bounding box] (0,0) rectangle (1568,1229);
\end{tikzpicture}
\end{document}
